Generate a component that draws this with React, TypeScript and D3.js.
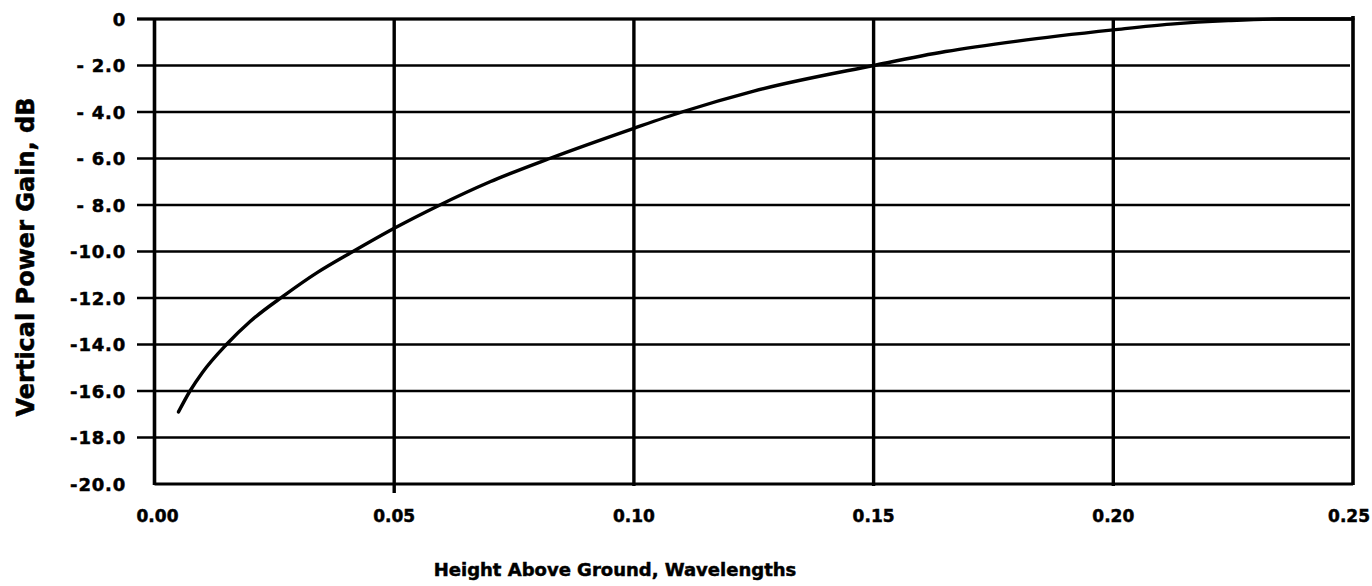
import React from "react";
import * as d3 from "d3";

// Data
const heightWL: number[] = [0.005, 0.0074, 0.01, 0.015, 0.02, 0.027, 0.034, 0.0414, 0.05, 0.059, 0.07, 0.0824, 0.1, 0.11, 0.125, 0.15, 0.165, 0.18, 0.2, 0.212, 0.224, 0.235, 0.25];
const gainDB: number[] = [-16.9, -16.0, -15.2, -14.0, -13.0, -11.9, -10.9, -10.0, -9.0, -8.05, -7.0, -6.0, -4.7, -4.0, -3.1, -2.0, -1.4, -0.95, -0.47, -0.22, -0.07, 0.0, 0.0];

const xTickValues: number[] = [0, 0.05, 0.1, 0.15, 0.2, 0.25];
const xTickLabels: string[] = ["0.00", "0.05", "0.10", "0.15", "0.20", "0.25"];
const yTickValues: number[] = [0, -2, -4, -6, -8, -10, -12, -14, -16, -18, -20];
const yTickLabels: string[] = ["0", "- 2.0", "- 4.0", "- 6.0", "- 8.0", "-10.0", "-12.0", "-14.0", "-16.0", "-18.0", "-20.0"];

const xTitle = "Height Above Ground, Wavelengths";
const yTitle = "Vertical Power Gain, dB";

const W = 1372;
const H = 586;
const left = 154.5;
const right = 1353;
const top = 19;
const bottom = 484;

export default function App() {
  const x = d3.scaleLinear().domain([0, 0.25]).range([left, right]);
  const y = d3.scaleLinear().domain([-20, 0]).range([bottom, top]);
  const pts: [number, number][] = heightWL.map((h, i) => [h, gainDB[i]]);
  const line = d3
    .line<[number, number]>()
    .x((d) => x(d[0]))
    .y((d) => y(d[1]))
    .curve(d3.curveMonotoneX);

  const font = "'DejaVu Sans', 'Liberation Sans', Arial, sans-serif";
  const n = xTickValues.length;

  return (
    <svg
      width={W}
      height={H}
      viewBox={`0 0 ${W} ${H}`}
      style={{ position: "absolute", left: 0, top: 0, background: "#fff" }}
    >
      <rect x={0} y={0} width={W} height={H} fill="#fff" />
      {/* horizontal gridlines */}
      {yTickValues.map((v) =>
        v === -20 ? null : (
          <line
            key={"h" + v}
            x1={137}
            x2={right - 3}
            y1={y(v)}
            y2={y(v)}
            stroke="#000"
            strokeWidth={2.6}
          />
        )
      )}
      {/* vertical gridlines */}
      {xTickValues.slice(1, -1).map((v) => (
        <line
          key={"v" + v}
          x1={x(v)}
          x2={x(v)}
          y1={top}
          y2={bottom + (v === 0.05 ? 9 : 2)}
          stroke="#000"
          strokeWidth={3.4}
        />
      ))}
      {/* frame */}
      <line x1={left} x2={left} y1={top} y2={bottom + 1} stroke="#000" strokeWidth={3.6} />
      <line x1={left} x2={right} y1={bottom} y2={bottom} stroke="#000" strokeWidth={3.2} />
      <line x1={right} x2={right} y1={top - 3} y2={bottom + 1} stroke="#000" strokeWidth={3.6} />
      <line x1={137} x2={right} y1={top} y2={top} stroke="#000" strokeWidth={3.0} />

      {/* curve */}
      <path d={line(pts) || ""} fill="none" stroke="#000" strokeWidth={3.4} strokeLinecap="round" />

      {/* y tick labels */}
      {yTickValues.map((v, i) => (
        <text
          key={"yl" + v}
          x={126}
          y={y(v) + 6.8}
          textAnchor="end"
          fontFamily={font}
          fontWeight="bold"
          fontSize={18}
          letterSpacing={0.8}
          fill="#000"
          stroke="#000"
          strokeWidth={0.5}
          style={{ whiteSpace: "pre" }}
        >
          {yTickLabels[i]}
        </text>
      ))}
      {/* x tick labels */}
      {xTickValues.map((v, i) => (
        <text
          key={"xl" + v}
          x={i === n - 1 ? 1370 : x(v) + (i === 0 ? 3 : 0)}
          y={522}
          textAnchor={i === n - 1 ? "end" : "middle"}
          fontFamily={font}
          fontWeight="bold"
          fontSize={17}
          fill="#000"
          stroke="#000"
          strokeWidth={0.5}
        >
          {xTickLabels[i]}
        </text>
      ))}
      {/* axis titles */}
      <text
        x={615}
        y={576}
        textAnchor="middle"
        fontFamily={font}
        fontWeight="bold"
        fontSize={18}
        fill="#000"
        stroke="#000"
        strokeWidth={0.5}
      >
        {xTitle}
      </text>
      <text
        transform={`translate(34, 257) rotate(-90)`}
        textAnchor="middle"
        fontFamily={font}
        fontWeight="bold"
        fontSize={24}
        fill="#000"
        stroke="#000"
        strokeWidth={0.5}
      >
        {yTitle}
      </text>
    </svg>
  );
}
